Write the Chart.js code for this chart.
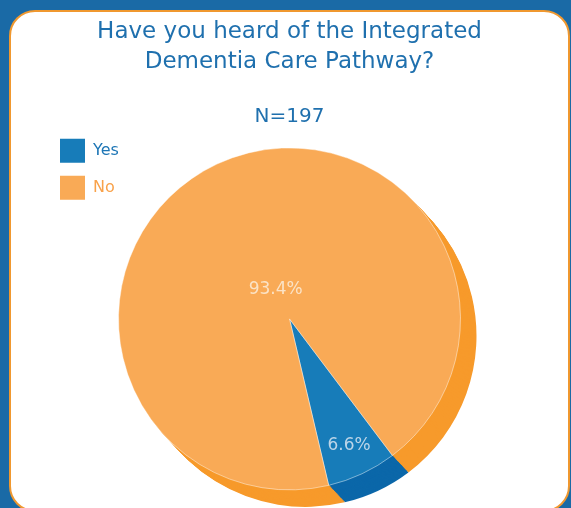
<!DOCTYPE html>
<html>
<head>
<meta charset="utf-8">
<script src="https://cdn.jsdelivr.net/npm/chart.js@4/dist/chart.umd.min.js"></script>
<style>
  html, body { margin: 0; padding: 0; overflow: hidden; background: #1A6AA6; }
  .card {
    position: absolute; left: 9px; top: 10px;
    width: 557px; height: 498px;
    background: #fff;
    border: 2px solid #F0982F;
    border-radius: 26px;
  }
  #pieCanvas { position: absolute; left: 0; top: 0; }
</style>
</head>
<body>
<div class="card"></div>
<canvas id="pieCanvas" width="571" height="540"></canvas>
<script>
// answers to the survey question (N=197)
const answers = ['Yes', 'No'];
const counts = [13, 184];

const faceColors = ['#177CB9', '#F9AA56'];
const sideColors = ['#0B67A9', '#F79A2B'];
const textColors = ['#1C75B5', '#F9A24A'];
const pctColors = ['#BCD5E8', '#FBE3C6'];
// how far out from the centre each percentage sits (fraction of radius)
const pctRadius = [0.82, 0.19];

const sideOffset = { x: 16, y: 17 };
const DEPTH_STEPS = 18;

const total = counts.reduce((a, b) => a + b, 0);

// fake 3d: stack shifted copies of each wedge under the real pie
const extrude = {
    id: 'extrude',
    afterLayout(chart) {
        // keep the legend inside the plot area, top-left
        const h = chart.legend.height;
        chart.legend.top = chart.chartArea.top - 1;
        chart.legend.bottom = chart.legend.top + h;
    },
    beforeDatasetsDraw(chart) {
        const meta = chart.getDatasetMeta(0);
        const ctx = chart.ctx;
        ctx.save();
        for (let k = DEPTH_STEPS; k >= 1; k--) {
            const dx = sideOffset.x * k / DEPTH_STEPS;
            const dy = sideOffset.y * k / DEPTH_STEPS;
            meta.data.forEach((arc, i) => {
                const { x, y, startAngle, endAngle, outerRadius } =
                    arc.getProps(['x', 'y', 'startAngle', 'endAngle', 'outerRadius'], true);
                ctx.beginPath();
                ctx.moveTo(x + dx, y + dy);
                ctx.arc(x + dx, y + dy, outerRadius, startAngle, endAngle);
                ctx.closePath();
                ctx.fillStyle = sideColors[i];
                ctx.fill();
            });
        }
        ctx.restore();
    },
    afterDatasetsDraw(chart) {
        const meta = chart.getDatasetMeta(0);
        const ctx = chart.ctx;
        ctx.save();
        ctx.font = '17px "DejaVu Sans"';
        ctx.textAlign = 'center';
        ctx.textBaseline = 'middle';
        meta.data.forEach((arc, i) => {
            const { x, y, startAngle, endAngle, outerRadius } =
                arc.getProps(['x', 'y', 'startAngle', 'endAngle', 'outerRadius'], true);
            const mid = (startAngle + endAngle) / 2;
            const r = outerRadius * pctRadius[i];
            ctx.fillStyle = pctColors[i];
            ctx.fillText((counts[i] / total * 100).toFixed(1) + '%',
                x + Math.cos(mid) * r, y + Math.sin(mid) * r);
        });
        ctx.restore();
    }
};

const pieCanvas = document.getElementById('pieCanvas');
window.pieChart = new Chart(pieCanvas, {
    type: 'pie',
    data: {
        labels: answers,
        datasets: [{
            data: counts,
            backgroundColor: faceColors,
            borderColor: 'rgba(255,255,255,0.45)',
            borderWidth: 1,
            radius: 171,
        }],
    },
    plugins: [extrude],
    options: {
        responsive: false,
        animation: false,
        rotation: 143,
        layout: { padding: { left: 47, right: 39, top: 0, bottom: 29 } },
        plugins: {
            title: {
                display: true,
                text: ['Have you heard of the Integrated', 'Dementia Care Pathway?'],
                color: '#1F70AE',
                font: { family: '"DejaVu Sans"', size: 23, weight: 'normal', lineHeight: 1.3 },
                padding: { top: 17, bottom: 30 },
            },
            subtitle: {
                display: true,
                text: 'N=197',
                color: '#1F70AE',
                font: { family: '"DejaVu Sans"', size: 20, weight: 'normal', lineHeight: 1 },
                padding: { top: 0, bottom: 0 },
            },
            legend: {
                position: 'chartArea',
                align: 'start',
                labels: {
                    boxWidth: 25,
                    boxHeight: 24,
                    padding: 13,
                    font: { family: '"DejaVu Sans"', size: 16 },
                    generateLabels: (chart) => answers.map((a, i) => ({
                        text: a,
                        fillStyle: faceColors[i],
                        strokeStyle: faceColors[i],
                        lineWidth: 0,
                        fontColor: textColors[i],
                        index: i,
                    })),
                },
            },
            tooltip: { enabled: false },
        },
    },
});
</script>
</body>
</html>
